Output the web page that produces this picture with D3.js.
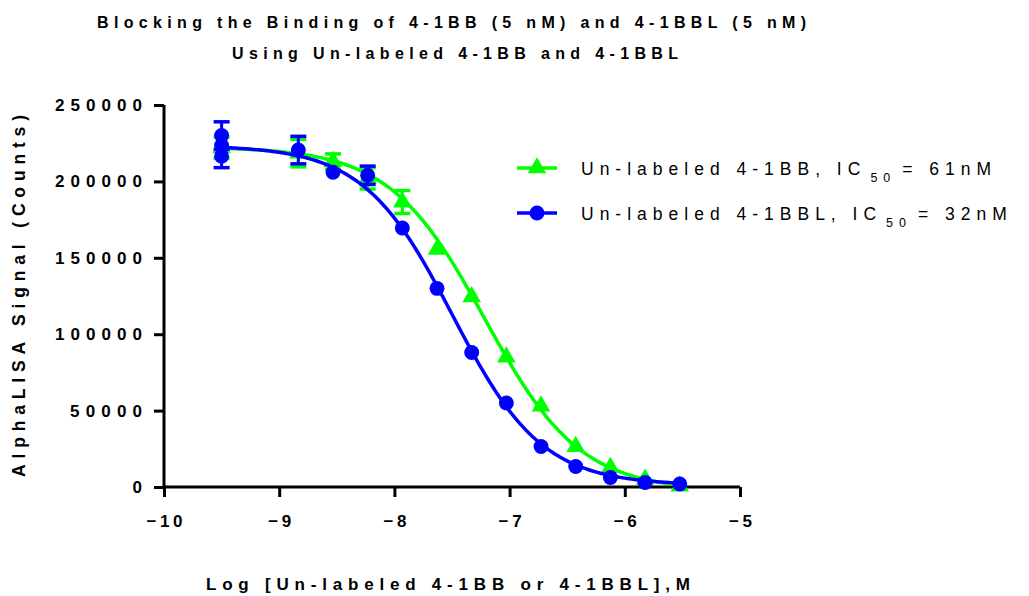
<!DOCTYPE html>
<html>
<head>
<meta charset="utf-8">
<script src="https://cdn.jsdelivr.net/npm/d3@7"></script>
<style>
  body { margin: 0; background: #fff; }
  svg { display: block; font-family: "Liberation Sans", Arial, sans-serif; }
  .narrow { font-family: "Liberation Sans Narrow", "Arial Narrow", "Liberation Sans", Arial, sans-serif; font-weight: bold; }
</style>
</head>
<body>
<div class="chart"></div>
<script>
// ---------- data
var xTicks = [-10, -9, -8, -7, -6, -5];
var yTicks = [0, 50000, 100000, 150000, 200000, 250000];
var logConc = [-9.5, -8.834, -8.533, -8.232, -7.931, -7.630, -7.329, -7.028, -6.727, -6.426, -6.125, -5.824, -5.523];

// un-labeled 4-1BB (green triangles)
var bbMean = [222000, 218500, 213000, 202000, 186500, 155500, 124500, 85000, 53000, 26500, 12800, 5000, 600];
var bbErr  = [7000, 9000, 5000, 7000, 7500, 0, 0, 0, 0, 0, 0, 0, 0];
// un-labeled 4-1BBL (blue circles)
var bblMean = [230000, 220500, 206000, 204000, 169500, 130000, 88000, 55000, 26500, 13400, 6200, 3000, 2000];
var bblErr  = [9000, 9000, 0, 6000, 0, 0, 0, 0, 0, 0, 0, 0, 0];
// other blue replicates shown at the control position
var bblExtraX = [-9.5, -9.5];
var bblExtraMean = [223500, 216500];
var bblExtraErr = [0, 7500];

// fitted curve parameters: top, bottom, logIC50, hill slope
var fitBB = [222500, -2500, -7.215, 1.05];
var fitBBL = [223500, 1200, -7.495, 1.12];

var legendNames = ["Un-labeled 4-1BB, IC", "Un-labeled 4-1BBL, IC"];
var legendTails = ["= 61nM", "= 32nM"];

// ---------- layout
var width = 1029, height = 596;
var green = "#00ff00", blue = "#0000ff";

var x = d3.scaleLinear().domain([-10, -5]).range([164, 740]);
var y = d3.scaleLinear().domain([0, 250000]).range([487, 105]);

var svg = d3.select("div.chart").append("svg")
  .attr("width", width).attr("height", height);

// titles
svg.append("text").classed("narrow", true).attr("x", 97).attr("y", 28)
  .attr("font-size", 16)
  .attr("textLength", 709).attr("lengthAdjust", "spacing")
  .text("Blocking the Binding of 4-1BB (5 nM) and 4-1BBL (5 nM)");
svg.append("text").classed("narrow", true).attr("x", 232).attr("y", 59)
  .attr("font-size", 16)
  .attr("textLength", 446).attr("lengthAdjust", "spacing")
  .text("Using Un-labeled 4-1BB and 4-1BBL");

// axes
var xAxis = d3.axisBottom(x).tickValues(xTicks).tickSize(10).tickFormat(d3.format("d"));
var yAxis = d3.axisLeft(y).tickValues(yTicks).tickSize(10).tickFormat(d3.format("d"));

var gx = svg.append("g").attr("transform", "translate(0," + y(0) + ")").call(xAxis);
var gy = svg.append("g").attr("transform", "translate(" + x(-10) + ",0)").call(yAxis);

[gx, gy].forEach(function(g) {
  g.select(".domain").attr("stroke", "#000").attr("stroke-width", 3);
  g.selectAll(".tick line").attr("stroke", "#000").attr("stroke-width", 3);
  g.selectAll(".tick text").classed("narrow", true)
    .attr("fill", "#000").attr("font-size", 17)
    .attr("font-family", null);
});
gx.select(".domain").attr("d", "M" + x(-10) + ",0H" + x(-5));
gy.select(".domain").attr("d", "M0," + y(0) + "V" + y(250000));
gx.selectAll(".tick text").attr("y", 28)
  .attr("textLength", function(d) { var n = String(d).length; return n > 1 ? n * 13 - 3 : null; })
  .attr("lengthAdjust", "spacing");
gy.selectAll(".tick text").attr("x", -22)
  .attr("textLength", function(d) { var n = String(d).length; return n > 1 ? n * 15 - 3 : null; })
  .attr("lengthAdjust", "spacing");

// axis titles
svg.append("text").classed("narrow", true).attr("transform", "translate(25,296) rotate(-90)")
  .attr("text-anchor", "middle")
  .attr("font-size", 17.5)
  .attr("textLength", 362).attr("lengthAdjust", "spacing")
  .text("AlphaLISA Signal (Counts)");
svg.append("text").classed("narrow", true).attr("x", 206).attr("y", 590)
  .attr("font-size", 17)
  .attr("textLength", 484).attr("lengthAdjust", "spacing")
  .text("Log [Un-labeled 4-1BB or 4-1BBL],M");

// fitted curves
function logistic(p) {
  return function(lx) { return p[1] + (p[0] - p[1]) / (1 + Math.pow(10, (lx - p[2]) * p[3])); };
}
var curveX = d3.range(-9.5, -5.52, 0.02).concat([-5.523]);
var line = d3.line().x(function(d) { return x(d[0]); }).y(function(d) { return y(d[1]); });

function drawSeries(color, fit, mean, err, xs, symbol) {
  var g = svg.append("g");
  var f = logistic(fit);
  g.append("path")
    .attr("d", line(curveX.map(function(lx) { return [lx, f(lx)]; })))
    .attr("fill", "none").attr("stroke", color).attr("stroke-width", 3.5);

  var pts = xs.map(function(lx, i) { return { x: lx, m: mean[i], e: err[i] }; });
  var eb = g.selectAll("g.eb").data(pts.filter(function(d) { return d.e > 0; })).enter().append("g");
  eb.append("line")
    .attr("x1", function(d) { return x(d.x); }).attr("x2", function(d) { return x(d.x); })
    .attr("y1", function(d) { return y(d.m + d.e); }).attr("y2", function(d) { return y(d.m - d.e); })
    .attr("stroke", color).attr("stroke-width", 3);
  [1, -1].forEach(function(s) {
    eb.append("line")
      .attr("x1", function(d) { return x(d.x) - 8; }).attr("x2", function(d) { return x(d.x) + 8; })
      .attr("y1", function(d) { return y(d.m + s * d.e); }).attr("y2", function(d) { return y(d.m + s * d.e); })
      .attr("stroke", color).attr("stroke-width", 3.5);
  });

  g.selectAll("path.pt").data(pts).enter().append("path")
    .attr("d", d3.symbol().type(symbol).size(symbol === d3.symbolCircle ? 175 : 150))
    .attr("transform", function(d) { return "translate(" + x(d.x) + "," + y(d.m) + ")"; })
    .attr("fill", color);
}

drawSeries(green, fitBB, bbMean, bbErr, logConc, d3.symbolTriangle);
drawSeries(blue, fitBBL, bblMean, bblErr, logConc, d3.symbolCircle);
// extra blue replicates
svg.append("g").selectAll("g").data(bblExtraX).enter().append("g").each(function(lx, i) {
  var g = d3.select(this), m = bblExtraMean[i], e = bblExtraErr[i];
  if (e > 0) {
    g.append("line").attr("x1", x(lx)).attr("x2", x(lx)).attr("y1", y(m + e)).attr("y2", y(m - e))
      .attr("stroke", blue).attr("stroke-width", 3);
    g.append("line").attr("x1", x(lx) - 8).attr("x2", x(lx) + 8).attr("y1", y(m - e)).attr("y2", y(m - e))
      .attr("stroke", blue).attr("stroke-width", 3.5);
  }
  g.append("path").attr("d", d3.symbol().type(d3.symbolCircle).size(175))
    .attr("transform", "translate(" + x(lx) + "," + y(m) + ")").attr("fill", blue);
});

// legend
var legend = svg.append("g");
var legColors = [green, blue], legSymbols = [d3.symbolTriangle, d3.symbolCircle];
legendNames.forEach(function(name, i) {
  var ly = 168 + i * 45;
  legend.append("line").attr("x1", 517).attr("x2", 557).attr("y1", ly).attr("y2", ly)
    .attr("stroke", legColors[i]).attr("stroke-width", 3.5);
  legend.append("path").attr("d", d3.symbol().type(legSymbols[i]).size(legSymbols[i] === d3.symbolCircle ? 175 : 150))
    .attr("transform", "translate(537," + ly + ")").attr("fill", legColors[i]);
  var t = legend.append("text").attr("x", 581).attr("y", ly + 7)
    .attr("font-size", 17.5).style("letter-spacing", "6px").attr("fill", "#000");
  t.append("tspan").text(name);
  t.append("tspan").attr("font-size", 12.5).attr("dy", 7).attr("dx", 4).text("50");
  t.append("tspan").attr("dy", -7).attr("dx", 6).text(legendTails[i]);
});
</script>
</body>
</html>
